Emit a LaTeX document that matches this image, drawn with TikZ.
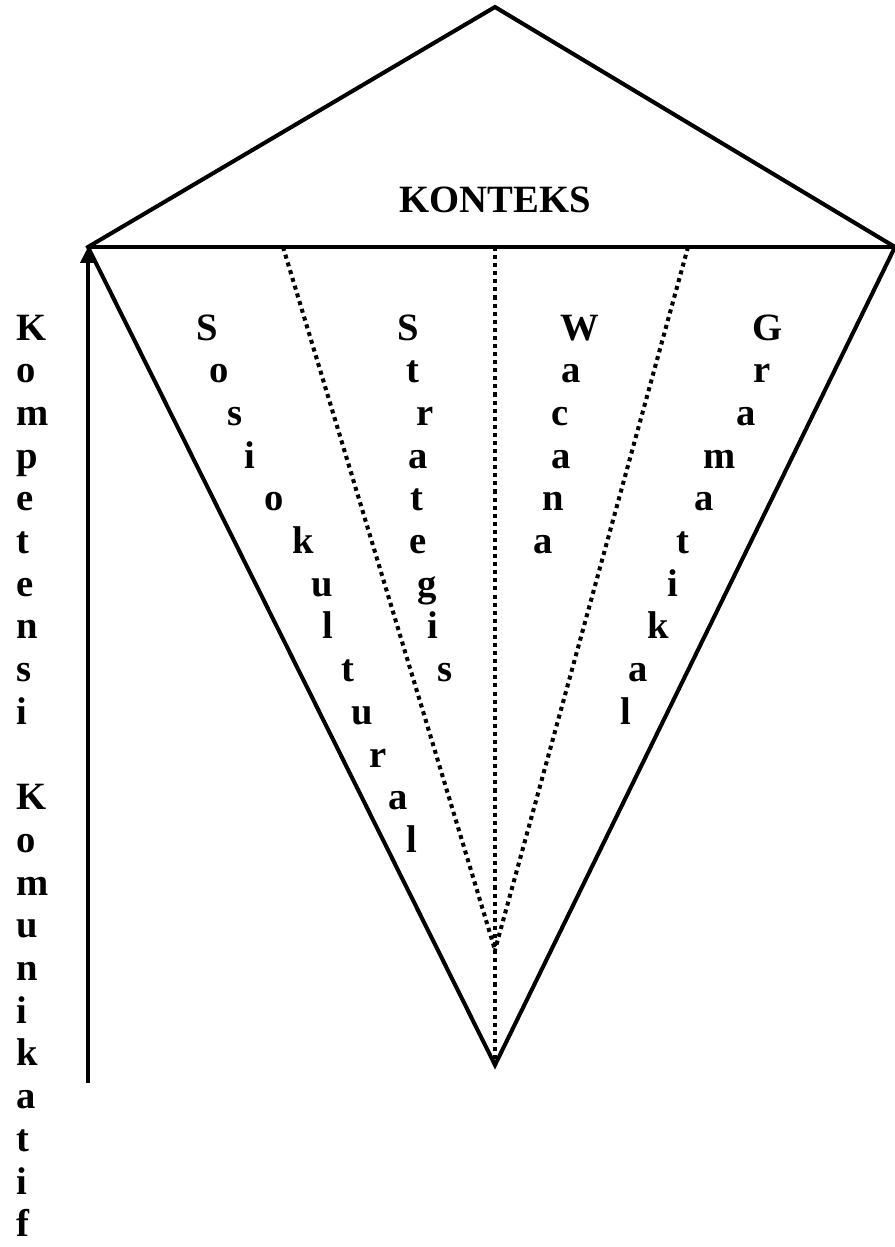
\documentclass[tikz,border=0pt]{standalone}
\usepackage{fontspec}
\setmainfont{Liberation Serif}
\usetikzlibrary{arrows.meta}

\tikzset{
  edge/.style={line width=2.3pt},
  dotline/.style={line width=2.3pt, dash pattern=on 2.3pt off 2.3pt},
  letter/.style={font=\bfseries\fontsize{22}{26}\selectfont, inner sep=0pt, anchor=base},
}

\begin{document}
\begin{tikzpicture}[x=0.02cm, y=-0.02cm]
    \useasboundingbox (0,0) rectangle (895,1247);

    % Corners of the kite and the feet of the dotted lines
    \coordinate (top) at (495,7);
    \coordinate (lft) at (88,247);
    \coordinate (rgt) at (895,247);
    \coordinate (bot) at (495,1065);
    \coordinate (meet) at (495,950);
    \coordinate (dl) at (283,247);
    \coordinate (dc) at (495,247);
    \coordinate (dr) at (688,247);
    \coordinate (foot) at (88,1083);

    % Outline and the cross line
    \draw[edge] (lft) -- (top) -- (rgt) -- (bot) -- cycle;
    \draw[edge] (lft) -- (rgt);

    % Dotted dividers
    \draw[dotline] (dl) -- (meet);
    \draw[dotline] (dr) -- (meet);
    \draw[dotline] (dc) -- (bot);

    % Arrow on the left
    \draw[edge, -{Triangle[width=0.3cm, length=0.32cm]}] (foot) -- (lft);

    \node[letter] (konteks) at (495,212) {KONTEKS};

    % Left column
    \foreach \ch [count=\i from 0] in {K,o,m,p,e,t,e,n,s,i}
        \node[letter, anchor=base west] (kom-\i) at (16, {340+42.7*\i}) {\ch};
    \foreach \ch [count=\i from 11] in {K,o,m,u,n,i,k,a,t,i,f}
        \node[letter, anchor=base west] (kmk-\i) at (16, {340+42.7*\i}) {\ch};

    % Words inside the kite
    \foreach \ch/\cx [count=\i from 0] in {S/207,o/219,s/235,i/250,o/274,k/303,u/322,l/328,t/348,u/362,r/378,a/398,l/412}
        \node[letter] (sos-\i) at (\cx, {340+42.7*\i}) {\ch};
    \foreach \ch/\cx [count=\i from 0] in {S/408,t/413,r/425,a/418,t/417,e/418,g/427,i/433,s/445}
        \node[letter] (str-\i) at (\cx, {340+42.7*\i}) {\ch};
    \foreach \ch/\cx [count=\i from 0] in {W/580,a/571,c/560,a/561,n/553,a/543}
        \node[letter] (wac-\i) at (\cx, {340+42.7*\i}) {\ch};
    \foreach \ch/\cx [count=\i from 0] in {G/768,r/762,a/746,m/720,a/704,t/683,i/673,k/658,a/638,l/626}
        \node[letter] (gra-\i) at (\cx, {340+42.7*\i}) {\ch};
\end{tikzpicture}
\end{document}
